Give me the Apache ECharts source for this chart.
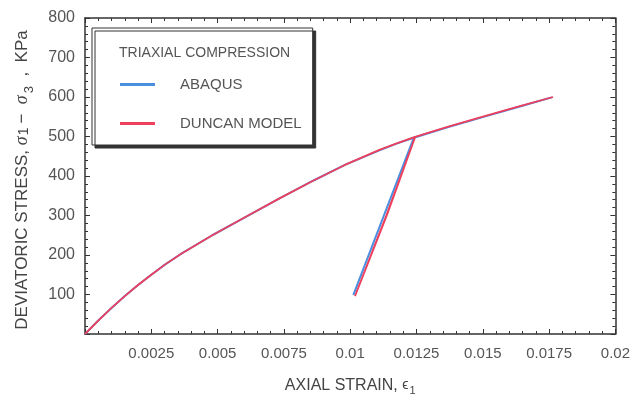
<!DOCTYPE html>
<html>
<head>
<meta charset="utf-8">
<script src="https://cdn.jsdelivr.net/npm/echarts@6/dist/echarts.min.js"></script>
<style>
  html, body { margin: 0; padding: 0; background: #fff; }
  #chart { width: 633px; height: 401px; }
</style>
</head>
<body>
<div id="chart"></div>
<script>
// values: loading branch, unload to ~100 kPa, reload, then further loading
const abaqusStrain = [0, 0.0005, 0.001, 0.0015, 0.002, 0.0025, 0.003, 0.0036, 0.0048, 0.0061, 0.0073, 0.0086, 0.0098, 0.0111, 0.01175, 0.0124,
  0.01012, 0.0124, 0.0137, 0.0151, 0.0164, 0.0176];
const abaqusStress = [0, 34, 66, 96, 124, 150, 175, 202, 250, 298, 342, 388, 428, 465, 482, 497,
  99, 497, 524, 551, 576, 599];

const duncanStrain = [0, 0.0005, 0.001, 0.0015, 0.002, 0.0025, 0.003, 0.0036, 0.0048, 0.0061, 0.0073, 0.0086, 0.0098, 0.0111, 0.01178, 0.01245,
  0.01136, 0.01018, 0.01138, 0.01245, 0.0137, 0.0151, 0.0164, 0.01765];
const duncanStress = [0, 34, 66, 96, 124, 150, 175, 202, 250, 298, 342, 388, 428, 466, 483, 499,
  300, 96, 300, 499, 525, 552, 577, 600];

const xMax = 0.02, xStep = 0.0025;
const yMax = 800, yStep = 100;

function pairs(xs, ys) {
  return xs.map((x, i) => [x, ys[i]]);
}

const frameColor = "#333";
const labelColor = "#555";

const baseAxis = {
  type: "value",
  min: 0,
  axisLine: { show: true, onZero: false, lineStyle: { color: frameColor, width: 1.5 } },
  axisTick: { show: true, inside: true, length: 5, lineStyle: { color: frameColor } },
  minorTick: { show: true, splitNumber: 5, length: 3, lineStyle: { color: frameColor } },
  splitLine: { show: false },
};

let myChart = echarts.init(document.getElementById("chart"));
myChart.setOption({
  animation: false,
  grid: { left: 85, right: 15, top: 18, bottom: 63 },
  title: {
    text: "TRIAXIAL COMPRESSION",
    left: 114,
    top: 41,
    textStyle: { fontFamily: "Liberation Sans", fontSize: 14, fontWeight: "normal", color: labelColor },
  },
  legend: {
    orient: "vertical",
    left: 92,
    top: 28,
    padding: [49, 11, 14, 28],
    itemWidth: 35,
    itemHeight: 3,
    itemGap: 24,
    icon: "rect",
    backgroundColor: "#fff",
    borderColor: frameColor,
    borderWidth: 1,
    shadowColor: "#333",
    shadowBlur: 0,
    shadowOffsetX: 3,
    shadowOffsetY: 3,
    textStyle: { fontFamily: "Liberation Sans", fontSize: 15, color: labelColor, padding: [0, 0, 0, 20] },
    data: ["ABAQUS", "DUNCAN MODEL"],
  },
  xAxis: [
    Object.assign({}, baseAxis, {
      max: xMax,
      interval: xStep,
      position: "bottom",
      name: "AXIAL STRAIN, {it|ϵ}{sub|1}",
      nameLocation: "middle",
      nameGap: 41,
      nameTextStyle: {
        fontFamily: "Liberation Sans", fontSize: 16, color: "#444",
        rich: {
          it: { fontFamily: "Liberation Sans", fontSize: 14, color: "#444" },
          sub: { fontFamily: "Liberation Sans", fontSize: 11, color: "#444", padding: [10, 0, 0, 1] },
        },
      },
      axisLabel: { showMinLabel: false, fontFamily: "Liberation Sans", fontSize: 15, color: labelColor, margin: 12 },
    }),
    Object.assign({}, baseAxis, {
      max: xMax,
      interval: xStep,
      position: "top",
      axisLabel: { show: false },
    }),
  ],
  yAxis: [
    Object.assign({}, baseAxis, {
      max: yMax,
      interval: yStep,
      position: "left",
      name: "DEVIATORIC STRESS, {it|σ}{s1|1}−  {it|σ}{sub|3}  ,  KPa",
      nameLocation: "middle",
      nameRotate: 90,
      nameGap: 49,
      nameTextStyle: {
        fontFamily: "Liberation Sans", fontSize: 17, color: "#444", padding: [0, 8, 0, 0],
        rich: {
          it: { fontFamily: "Liberation Serif", fontStyle: "italic", fontSize: 18, color: "#444" },
          s1: { fontFamily: "Liberation Sans", fontSize: 14, color: "#444", padding: [4, 4, 0, 1] },
          sub: { fontFamily: "Liberation Sans", fontSize: 13, color: "#444", padding: [14, 0, 0, 2] },
        },
      },
      axisLabel: { showMinLabel: false, fontFamily: "Liberation Sans", fontSize: 16, color: labelColor, margin: 10 },
    }),
    Object.assign({}, baseAxis, {
      max: yMax,
      interval: yStep,
      position: "right",
      axisLabel: { show: false },
    }),
  ],
  series: [
    {
      name: "ABAQUS",
      type: "line",
      showSymbol: false,
      smooth: false,
      color: "#4a8fe0",
      lineStyle: { width: 2 },
      data: pairs(abaqusStrain, abaqusStress),
    },
    {
      name: "DUNCAN MODEL",
      type: "line",
      showSymbol: false,
      smooth: false,
      color: "#ee3f5c",
      lineStyle: { width: 1.8 },
      data: pairs(duncanStrain, duncanStress),
    },
  ],
});
</script>
</body>
</html>
